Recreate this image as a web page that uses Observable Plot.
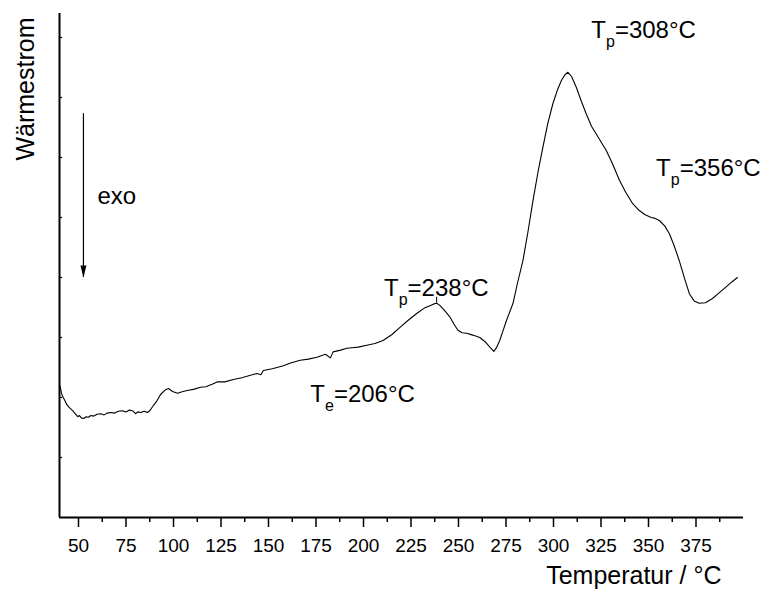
<!DOCTYPE html>
<html><head><meta charset="utf-8">
<script src="https://cdn.jsdelivr.net/npm/d3@7"></script>
<script src="https://cdn.jsdelivr.net/npm/@observablehq/plot@0.6"></script>
<style>body{margin:0;background:#fff}</style>
</head><body><div id="chart"></div>
<script>
const temperature = [40.2,41.0,41.6,42.8,43.9,45.2,46.9,48.0,49.6,50.5,51.5,52.8,54.0,55.2,56.5,58.0,59.8,61.7,63.5,65.0,67.0,69.0,71.0,73.1,75.0,76.8,78.4,80.0,81.2,82.7,84.5,86.2,87.5,89.5,91.0,93.2,95.8,97.4,99.5,102.1,105.0,107.9,111.0,114.2,117.0,120.3,123.0,127.0,131.5,136.0,140.5,144.0,146.0,147.3,152.0,157.8,162.0,166.7,171.0,175.5,180.0,182.6,184.0,188.0,191.2,194.0,197.2,201.7,206.0,210.3,215.0,219.2,224.0,228.0,232.0,235.0,237.0,238.5,240.0,241.8,243.5,245.5,247.5,249.7,252.0,254.3,257.5,261.2,264.0,266.5,268.6,270.0,271.7,273.5,275.2,278.7,281.0,283.9,286.5,289.2,291.8,294.4,297.0,299.7,302.0,304.1,306.0,307.6,309.5,312.0,314.5,317.2,320.0,323.3,327.7,331.0,334.7,338.0,341.7,345.0,348.0,351.4,353.0,355.7,358.5,361.0,363.5,366.2,369.0,371.5,374.0,376.7,380.0,383.7,387.0,390.7,394.0,396.8];
const heatFlow = [2.20,2.08,2.02,1.95,1.88,1.83,1.78,1.74,1.68,1.70,1.66,1.65,1.68,1.67,1.70,1.69,1.72,1.73,1.71,1.74,1.75,1.74,1.77,1.78,1.76,1.79,1.78,1.73,1.76,1.75,1.77,1.75,1.78,1.87,1.93,2.05,2.13,2.15,2.10,2.07,2.10,2.12,2.14,2.17,2.18,2.22,2.26,2.26,2.30,2.33,2.37,2.40,2.38,2.45,2.48,2.53,2.58,2.62,2.64,2.67,2.72,2.66,2.76,2.79,2.82,2.83,2.84,2.87,2.90,2.95,3.05,3.17,3.30,3.40,3.49,3.53,3.56,3.57,3.54,3.48,3.42,3.34,3.23,3.12,3.08,3.07,3.04,3.00,2.93,2.84,2.77,2.83,2.95,3.12,3.28,3.57,3.90,4.28,4.75,5.28,5.75,6.17,6.57,6.90,7.12,7.28,7.38,7.42,7.35,7.17,6.95,6.73,6.52,6.35,6.12,5.90,5.62,5.42,5.23,5.12,5.05,5.00,4.99,4.95,4.86,4.73,4.53,4.28,3.98,3.73,3.61,3.57,3.58,3.65,3.74,3.84,3.93,4.00];

const xTicks = [50,75,100,125,150,175,200,225,250,275,300,325,350,375];
const xMinorTicks = [62.5,87.5,112.5,137.5,162.5,187.5,212.5,237.5,262.5,287.5,312.5,337.5,362.5,387.5];
const yTicks = [1,2,3,4,5,6,7,8];

const labelText = ["T_p=308°C","T_p=356°C","T_p=238°C","T_e=206°C"];
const labelT = [319.9,354.0,210.8,172.0];
const labelH = [7.99,5.70,3.70,1.92];

const peakMarkT = [238.5];
const peakMarkFrom = [3.57];
const peakMarkTo = [3.67];

const exoText = ["exo"];
const exoT = [60.0];
const exoH = [5.23];
const arrowT = [52.6];
const arrowFrom = [6.73];
const arrowTo = [4.0];

const xLabel = "Temperatur / °C";
const yLabel = "Wärmestrom";

const data = temperature.map((t, i) => ({t, h: heatFlow[i]}));
const labels = labelText.map((s, i) => ({s, t: labelT[i], h: labelH[i]}));
const peakMarks = peakMarkT.map((t, i) => ({t, a: peakMarkFrom[i], b: peakMarkTo[i]}));
const exo = exoText.map((s, i) => ({s, t: exoT[i], h: exoH[i]}));
const arrows = arrowT.map((t, i) => ({t, a: arrowFrom[i], b: arrowTo[i]}));

// narrow filled arrowhead: tip at the anchor, pointing down
const arrowHead = {
  draw(context) {
    context.moveTo(0, 0);
    context.lineTo(-3, -12);
    context.lineTo(3, -12);
    context.closePath();
  }
};

const font = "'Liberation Sans', Arial, Helvetica, sans-serif";

const chart = Plot.plot({
  width: 768, height: 590,
  marginLeft: 59, marginTop: 13, marginRight: 25, marginBottom: 73,
  style: {fontFamily: font, background: "white", color: "black", overflow: "visible"},
  x: {domain: [40, 400]},
  y: {domain: [0, 8.4], axis: null},
  marks: [
    Plot.axisX({ticks: xMinorTicks, tickSize: 5, tickFormat: () => "", strokeWidth: 1.5, label: null}),
    Plot.axisX({ticks: xTicks, tickSize: 10, tickPadding: 11, fontSize: 19, strokeWidth: 1.5, label: null, fill: "black"}),
    Plot.ruleY(yTicks, {x1: 40, x2: 41.6, stroke: "black", strokeWidth: 1.2}),
    Plot.ruleX([40], {stroke: "black", strokeWidth: 2}),
    Plot.ruleY([0], {stroke: "black", strokeWidth: 2}),
    Plot.line(data, {x: "t", y: "h", stroke: "black", strokeWidth: 1.1}),
    Plot.ruleX(peakMarks, {x: "t", y1: "a", y2: "b", stroke: "black", strokeWidth: 1}),
    Plot.ruleX(arrows, {x: "t", y1: "a", y2: "b", stroke: "black", strokeWidth: 1.2}),
    Plot.dot(arrows, {x: "t", y: "b", symbol: arrowHead, fill: "black", stroke: "none"}),
    Plot.text(exo, {x: "t", y: "h", text: "s", textAnchor: "start", lineAnchor: "bottom", fontSize: 24, fill: "black"}),
    Plot.text(labels, {x: "t", y: "h", text: "s", textAnchor: "start", lineAnchor: "bottom", fontSize: 24, fill: "black"}),
    Plot.text([xLabel], {frameAnchor: "bottom-right", text: d => d, textAnchor: "end", lineAnchor: "bottom", dx: -22, dy: 66, fontSize: 25, fill: "black"}),
    Plot.text([yLabel], {frameAnchor: "top-left", text: d => d, rotate: -90, textAnchor: "end", lineAnchor: "bottom", dx: -26, dy: 4, fontSize: 25, fill: "black"})
  ]
});

// Subscripts for T_p / T_e labels
d3.select(chart).selectAll("text").each(function() {
  const m = /^T_(.)(.*)$/.exec(this.textContent);
  if (!m) return;
  const el = d3.select(this);
  el.text("T");
  el.append("tspan").attr("font-size", 16).attr("dy", 9).text(m[1]);
  el.append("tspan").attr("font-size", 24).attr("dy", -9).text(m[2]);
});

document.getElementById("chart").appendChild(chart);
</script>
</body></html>
